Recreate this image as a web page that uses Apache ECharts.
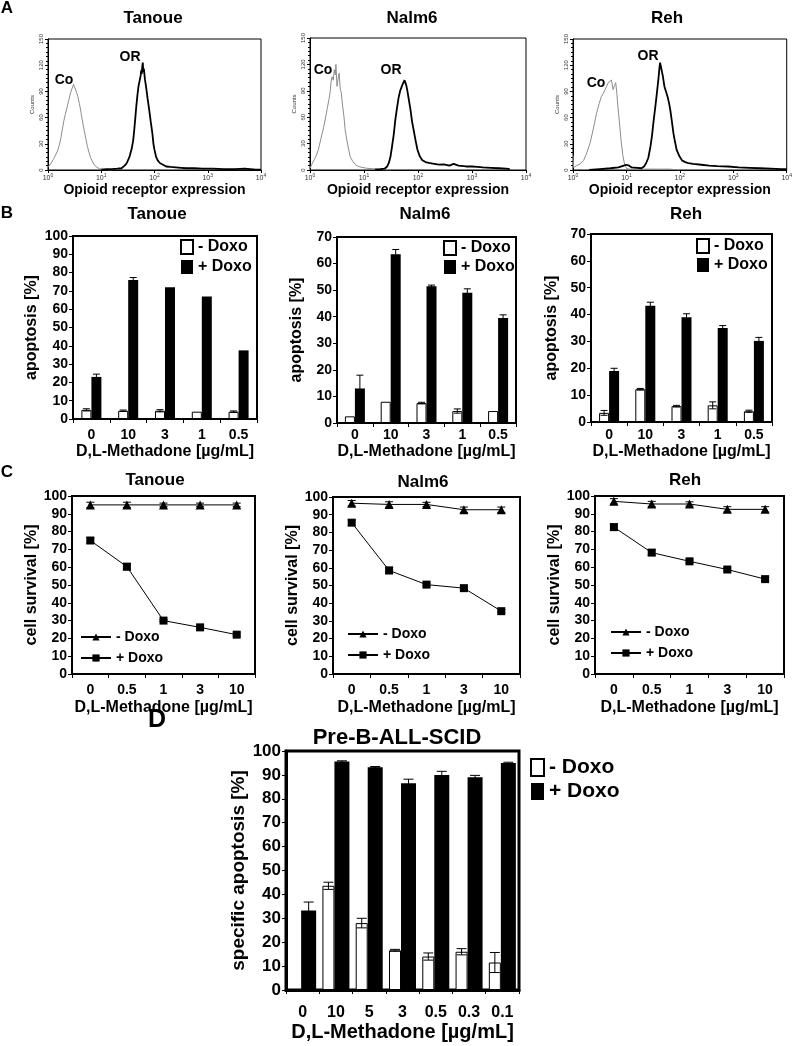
<!DOCTYPE html>
<html><head><meta charset="utf-8">
<script src="https://cdn.jsdelivr.net/npm/echarts/dist/echarts.min.js"></script>
<style>html,body{margin:0;padding:0;background:#fff}#c{width:795px;height:1046px}</style>
</head><body><div id="c"></div>
<script>
// ---------------- DATA ----------------
// Panel A: flow cytometry histograms, [log10 intensity, counts]
const aTanoueCo = [[0,3],[0.03,5],[0.06,8],[0.1,12],[0.14,17],[0.18,22],[0.21,28],[0.24,36],[0.27,47],[0.3,57],[0.33,65],[0.36,72],[0.39,80],[0.42,88],[0.45,93],[0.48,98],[0.5,96],[0.53,90],[0.56,84],[0.59,76],[0.62,66],[0.65,55],[0.68,45],[0.71,36],[0.74,27],[0.77,20],[0.8,14],[0.84,9],[0.88,5],[0.92,3],[0.97,1.5],[1.05,0.5],[1.2,0]];
const aTanoueOR = [[1.0,0.5],[1.1,1],[1.2,1],[1.3,1.5],[1.38,2],[1.44,5],[1.48,8],[1.53,15],[1.57,24],[1.6,34],[1.62,46],[1.64,60],[1.66,74],[1.68,86],[1.7,96],[1.72,102],[1.74,108],[1.75,114],[1.76,110],[1.77,118],[1.78,123],[1.79,112],[1.8,116],[1.82,104],[1.84,96],[1.87,82],[1.9,69],[1.93,55],[1.96,42],[1.98,30],[2.0,23],[2.03,15],[2.06,11],[2.1,8],[2.16,6],[2.22,4],[2.3,3.5],[2.4,3],[2.5,2.5],[2.6,2],[2.75,2],[2.9,1.5],[3.1,1.5],[3.3,1],[3.5,1],[3.7,1.5],[3.9,0.5],[4,0.5]];
const aNalm6Co = [[0,2],[0.03,6],[0.08,12],[0.12,17],[0.155,23],[0.2,35],[0.25,48],[0.28,57],[0.32,70],[0.35,80],[0.37,87],[0.39,100],[0.41,106],[0.43,102],[0.45,114],[0.47,108],[0.48,120],[0.5,95],[0.52,104],[0.54,110],[0.56,92],[0.58,88],[0.6,75],[0.63,60],[0.65,46],[0.68,35],[0.71,25],[0.745,15],[0.79,10],[0.84,6],[0.9,4],[0.96,3],[1.05,2],[1.15,1.5],[1.25,1],[1.35,0.5],[1.5,0]];
const aNalm6OR = [[1.2,0.5],[1.3,1],[1.38,1.5],[1.43,4],[1.46,8],[1.49,15],[1.52,27],[1.55,40],[1.58,57],[1.61,70],[1.64,82],[1.67,90],[1.7,95],[1.72,98],[1.74,96],[1.75,102],[1.76,100],[1.77,101],[1.78,97],[1.8,91],[1.83,80],[1.86,69],[1.89,55],[1.93,42],[1.96,32],[1.99,23],[2.03,16],[2.08,11],[2.14,9],[2.2,8],[2.3,7],[2.39,6],[2.48,6.5],[2.58,5],[2.66,7],[2.75,5],[2.89,4],[3.0,4],[3.1,3.5],[3.2,3],[3.35,2.5],[3.5,2],[3.63,1.5],[3.7,1]];
const aRehCo = [[0,17],[0.01,3],[0.07,5],[0.13,7],[0.2,11],[0.26,20],[0.32,31],[0.38,47],[0.44,65],[0.49,76],[0.53,84],[0.57,88],[0.6,92],[0.63,96],[0.66,100],[0.69,98],[0.72,103],[0.75,92],[0.78,97],[0.8,100],[0.82,88],[0.84,73],[0.87,54],[0.9,34],[0.93,18],[0.96,8],[1.0,2],[1.05,1],[1.2,1],[1.4,1],[1.6,1],[1.8,1],[1.9,0.5],[2.0,0]];
const aRehOR = [[0.3,0],[0.5,1],[0.7,2],[0.85,3],[0.95,5],[1.0,6],[1.05,5],[1.1,3],[1.2,2.5],[1.28,2],[1.33,4],[1.37,8],[1.41,14],[1.45,27],[1.48,40],[1.51,57],[1.54,72],[1.57,88],[1.6,105],[1.62,118],[1.63,123],[1.65,117],[1.66,119],[1.68,108],[1.71,96],[1.74,90],[1.77,84],[1.8,76],[1.82,69],[1.85,56],[1.88,42],[1.91,32],[1.94,23],[1.99,16],[2.04,11],[2.1,9],[2.16,8],[2.25,7],[2.4,6],[2.55,5],[2.7,4.5],[2.9,4],[3.1,3],[3.3,2.5],[3.5,2],[3.7,1.5],[3.9,1],[4.0,1]];

// Panel B: apoptosis bars
const bCats = ['0','10','3','1','0.5'];
const bTanoueMinus = [5, 4.5, 4.5, 4, 4];
const bTanoueMinusErr = [0.6, 0.4, 0.6, 0, 0.4];
const bTanouePlus = [23, 76, 72, 67, 37.5];
const bTanouePlusErr = [1.5, 1.3, 0, 0, 0];
const bNalm6Minus = [2.5, 8, 7.5, 4.5, 4.5];
const bNalm6MinusErr = [0, 0, 0.3, 0.8, 0];
const bNalm6Plus = [13, 63.5, 51.5, 49, 39.5];
const bNalm6PlusErr = [5, 1.8, 0.4, 1.5, 1.2];
const bRehMinus = [3.4, 12.2, 5.9, 6.2, 4];
const bRehMinusErr = [0.9, 0.3, 0.3, 1.3, 0.4];
const bRehPlus = [19, 43.3, 39, 35, 30.2];
const bRehPlusErr = [1, 1.3, 1.3, 0.9, 1.3];

// Panel C: cell survival lines
const cCats = ['0','0.5','1','3','10'];
const cTanoueMinus = [95, 95, 95, 95, 95];
const cTanoueMinusErr = [1.5, 1.5, 1, 1, 1];
const cTanouePlus = [75, 60.3, 30, 26.2, 22.1];
const cTanouePlusErr = [1.5, 1.8, 0.5, 0.6, 0.8];
const cNalm6Minus = [96.5, 95.8, 95.8, 92.8, 92.8];
const cNalm6MinusErr = [1.5, 1.5, 1.2, 1.5, 1.5];
const cNalm6Plus = [85.5, 58.5, 50.5, 48.5, 35.5];
const cNalm6PlusErr = [1.5, 1.8, 0.8, 0.8, 0.8];
const cRehMinus = [97, 95.5, 95.5, 92.5, 92.5];
const cRehMinusErr = [1.5, 1.5, 1.2, 1.5, 1.5];
const cRehPlus = [82.5, 68.2, 63.3, 58.7, 53.3];
const cRehPlusErr = [1.8, 1.5, 0.8, 0.8, 0.8];

// Panel D: Pre-B-ALL-SCID specific apoptosis
const dCats = ['0','10','5','3','0.5','0.3','0.1'];
const dMinus = [null, 43.6, 28, 16.6, 14, 16, 11.5];
const dMinusErr = [0, 1.5, 2, 0.4, 1.5, 1.3, 4.2];
const dPlus = [33.3, 95.6, 93.2, 86.5, 90, 89, 95];
const dPlusErr = [3.5, 0.3, 0.3, 1.7, 1.5, 0.8, 0.3];

// ---------------- BUILD ----------------
const FONT = '"Liberation Sans", Arial, Helvetica, sans-serif';
const T = (size) => ({fontFamily: FONT, fontWeight: 'bold', fontSize: size, color: '#000'});
const grids = [], xAxes = [], yAxes = [], series = [], legends = [], graphics = [];
const XNAME = 'D,L-Methadone [µg/mL]';

function addGrid(l, t, w, h, bw) {
  grids.push({left: l, top: t, width: w, height: h, show: true, borderColor: '#000', borderWidth: bw, backgroundColor: 'transparent'});
  return grids.length - 1;
}

function errSeries(xi, yi, vals, errs, offset, cap, z) {
  const data = [];
  vals.forEach((v, i) => { if (v != null && errs[i] > 0) data.push([i, v, errs[i]]); });
  return {
    type: 'custom', xAxisIndex: xi, yAxisIndex: yi, z: z || 5, silent: true, animation: false,
    encode: {x: 0, y: 1}, data,
    renderItem: (p, api) => {
      const i = api.value(0), v = api.value(1), e = api.value(2);
      const hi = api.coord([i, v + e]), lo = api.coord([i, v - e]);
      const x = hi[0] + offset;
      const st = {stroke: '#000', lineWidth: 1};
      return {type: 'group', children: [
        {type: 'line', shape: {x1: x, y1: hi[1], x2: x, y2: lo[1]}, style: st},
        {type: 'line', shape: {x1: x - cap, y1: hi[1], x2: x + cap, y2: hi[1]}, style: st},
        {type: 'line', shape: {x1: x - cap, y1: lo[1], x2: x + cap, y2: lo[1]}, style: st}
      ]};
    }
  };
}

function histPanel(g, co, or) {
  const gi = addGrid(g[0], g[1], g[2], g[3], 1);
  xAxes.push({gridIndex: gi, type: 'value', min: 0, max: 4, interval: 1,
    name: 'Opioid receptor expression', nameLocation: 'middle', nameGap: 13, nameTextStyle: T(14),
    axisLine: {show: true, lineStyle: {color: '#000', width: 1}},
    axisTick: {show: true, length: 3, lineStyle: {color: '#000'}},
    splitLine: {show: false},
    axisLabel: {margin: 3, fontSize: 7, color: '#333', fontFamily: FONT,
      formatter: v => '10{s|' + v + '}', rich: {s: {fontSize: 5, color: '#333', padding: [0, 0, 5, 0]}}}});
  yAxes.push({gridIndex: gi, type: 'value', min: 0, max: 150, interval: 30,
    name: 'Counts', nameLocation: 'middle', nameGap: 13, nameTextStyle: {fontSize: 6, color: '#333', fontFamily: FONT},
    axisLine: {show: true, lineStyle: {color: '#000', width: 1}},
    axisTick: {show: true, length: 3, lineStyle: {color: '#000'}},
    minorTick: {show: true, splitNumber: 6, length: 2, lineStyle: {color: '#000'}},
    splitLine: {show: false},
    axisLabel: {rotate: 90, fontSize: 6, color: '#333', margin: 4, fontFamily: FONT}});
  const xi = xAxes.length - 1, yi = yAxes.length - 1;
  series.push({type: 'line', xAxisIndex: xi, yAxisIndex: yi, data: co, showSymbol: false, symbol: 'none',
    lineStyle: {color: '#8c8c8c', width: 1}, silent: true, animation: false, z: 2});
  series.push({type: 'line', xAxisIndex: xi, yAxisIndex: yi, data: or, showSymbol: false, symbol: 'none',
    lineStyle: {color: '#000', width: 1.8}, silent: true, animation: false, z: 3});
}

function catX(gi, cats, lab, margin, nameSize, nameGap, lw) {
  return {gridIndex: gi, type: 'category', data: cats, boundaryGap: true,
    name: XNAME, nameLocation: 'middle', nameGap: nameGap, nameTextStyle: T(nameSize),
    axisLine: {show: true, lineStyle: {color: '#000', width: lw}},
    axisTick: {show: true, alignWithLabel: false, length: 4, lineStyle: {color: '#000', width: 1}},
    axisLabel: Object.assign(T(lab), {margin: margin, interval: 0}), splitLine: {show: false}};
}
function valY(gi, max, lab, name, nameSize, nameGap, lw) {
  return {gridIndex: gi, type: 'value', min: 0, max: max, interval: 10,
    name: name, nameLocation: 'middle', nameGap: nameGap, nameTextStyle: T(nameSize),
    axisLine: {show: true, lineStyle: {color: '#000', width: lw}},
    axisTick: {show: true, length: 4, lineStyle: {color: '#000', width: 1}},
    splitLine: {show: false}, axisLabel: Object.assign(T(lab), {margin: 5})};
}

function barPanel(gi, xa, ya, minus, minusErr, plus, plusErr, wm, wp, cap) {
  xAxes.push(xa); yAxes.push(ya);
  const xi = xAxes.length - 1, yi = yAxes.length - 1;
  series.push({type: 'bar', name: '- Doxo', xAxisIndex: xi, yAxisIndex: yi, data: minus, barWidth: wm, barGap: '0%',
    itemStyle: {color: '#fff', borderColor: '#000', borderWidth: 1}, silent: true, animation: false, z: 2});
  series.push({type: 'bar', name: '+ Doxo', xAxisIndex: xi, yAxisIndex: yi, data: plus, barWidth: wp, barGap: '0%',
    itemStyle: {color: '#000', borderColor: '#000', borderWidth: 0}, silent: true, animation: false, z: 2});
  const tot = wm + wp;
  series.push(errSeries(xi, yi, minus, minusErr, -tot / 2 + wm / 2, cap));
  series.push(errSeries(xi, yi, plus, plusErr, -tot / 2 + wm + wp / 2, cap));
}

function linePanel(gi, xa, ya, minus, minusErr, plus, plusErr) {
  xAxes.push(xa); yAxes.push(ya);
  const xi = xAxes.length - 1, yi = yAxes.length - 1;
  series.push({type: 'line', name: '- Doxo ', xAxisIndex: xi, yAxisIndex: yi, data: minus, symbol: 'triangle', symbolSize: 9,
    lineStyle: {color: '#000', width: 1}, itemStyle: {color: '#000'}, silent: true, animation: false, z: 3});
  series.push({type: 'line', name: '+ Doxo ', xAxisIndex: xi, yAxisIndex: yi, data: plus, symbol: 'rect', symbolSize: 8,
    lineStyle: {color: '#000', width: 1}, itemStyle: {color: '#000'}, silent: true, animation: false, z: 3});
  series.push(errSeries(xi, yi, minus, minusErr, 0, 4, 4));
  series.push(errSeries(xi, yi, plus, plusErr, 0, 4, 4));
}

// ---- Panel A
histPanel([48, 39, 213, 131], aTanoueCo, aTanoueOR);
histPanel([310, 38, 216, 132], aNalm6Co, aNalm6OR);
histPanel([573, 39, 217, 131], aRehCo, aRehOR);

// ---- Panel B
let g;
g = addGrid(73, 236, 184, 183, 2);
barPanel(g, catX(g, bCats, 14, 9, 16, 25, 2), valY(g, 100, 14, 'apoptosis [%]', 16, 33, 2),
  bTanoueMinus, bTanoueMinusErr, bTanouePlus, bTanouePlusErr, 10, 10, 3.5);
g = addGrid(337, 237, 179, 186, 2);
barPanel(g, catX(g, bCats, 14, 5, 16, 21, 2), valY(g, 70, 14, 'apoptosis [%]', 16, 32, 2),
  bNalm6Minus, bNalm6MinusErr, bNalm6Plus, bNalm6PlusErr, 10, 10, 3.5);
g = addGrid(591, 234, 181, 188, 2);
barPanel(g, catX(g, bCats, 14, 6, 16, 22, 2), valY(g, 70, 14, 'apoptosis [%]', 16, 31, 2),
  bRehMinus, bRehMinusErr, bRehPlus, bRehPlusErr, 10, 10, 3.5);

// ---- Panel C
g = addGrid(72, 496, 183, 178, 2);
linePanel(g, catX(g, cCats, 14, 9, 16, 26, 2), valY(g, 100, 14, 'cell survival [%]', 16, 30, 2),
  cTanoueMinus, cTanoueMinusErr, cTanouePlus, cTanouePlusErr);
g = addGrid(333, 497, 187, 177, 2);
linePanel(g, catX(g, cCats, 14, 9, 16, 26, 2), valY(g, 100, 14, 'cell survival [%]', 16, 26, 2),
  cNalm6Minus, cNalm6MinusErr, cNalm6Plus, cNalm6PlusErr);
g = addGrid(595, 496, 189, 178, 2);
linePanel(g, catX(g, cCats, 14, 9, 16, 26, 2), valY(g, 100, 14, 'cell survival [%]', 16, 25, 2),
  cRehMinus, cRehMinusErr, cRehPlus, cRehPlusErr);

// ---- Panel D
g = addGrid(286, 751, 233, 239, 3);
barPanel(g, catX(g, dCats, 16, 15, 20, 32, 3), valY(g, 100, 17, 'specific apoptosis [%]', 19, 38, 3),
  dMinus, dMinusErr, dPlus, dPlusErr, 12, 15, 5);

// ---- Legends
function barLegend(l, t, size, iw, ih, lh, gap) {
  legends.push({left: l, top: t, orient: 'vertical', padding: 0, itemWidth: iw, itemHeight: ih, itemGap: gap,
    selectedMode: false, icon: 'rect', data: ['- Doxo', '+ Doxo'],
    textStyle: Object.assign(T(size), {lineHeight: lh})});
}
barLegend(180, 239, 16, 12, 14, 16, 4);
barLegend(443, 240, 16, 12, 14, 16, 3);
barLegend(696, 238, 16, 12, 14, 16, 3);
barLegend(530, 757, 21, 13, 17, 18, 3);
function lineLegend(l, t) {
  legends.push({left: l, top: t, orient: 'vertical', padding: 0, itemWidth: 30, itemHeight: 9, itemGap: 5,
    selectedMode: false, data: ['- Doxo ', '+ Doxo '],
    textStyle: Object.assign(T(14), {lineHeight: 16})});
}
lineLegend(80, 629);
lineLegend(347, 626);
lineLegend(610, 624);

// ---- Free text
function txt(x, y, s, size) {
  graphics.push({type: 'text', x: x, y: y, silent: true,
    style: {text: s, align: 'center', verticalAlign: 'middle', fontFamily: FONT, fontWeight: 'bold', fontSize: size, fill: '#000'}});
}
txt(7, 8, 'A', 17); txt(7, 213, 'B', 17); txt(7, 472, 'C', 17); txt(157, 720, 'D', 25);
txt(153, 18, 'Tanoue', 17); txt(412, 18, 'Nalm6', 17); txt(667, 18, 'Reh', 17);
txt(157, 214, 'Tanoue', 17); txt(425, 214, 'Nalm6', 17); txt(686, 214, 'Reh', 17);
txt(155, 480, 'Tanoue', 17); txt(423, 482, 'Nalm6', 17); txt(685, 480, 'Reh', 17);
txt(397, 738, 'Pre-B-ALL-SCID', 22);
txt(64, 80, 'Co', 14); txt(130, 57, 'OR', 14);
txt(323, 70, 'Co', 14); txt(391, 70, 'OR', 14);
txt(596, 83, 'Co', 14); txt(648, 56, 'OR', 14);

const chart = echarts.init(document.getElementById('c'), null, {renderer: 'canvas'});
chart.setOption({
  backgroundColor: '#fff', animation: false,
  grid: grids, xAxis: xAxes, yAxis: yAxes, series: series, legend: legends, graphic: graphics
});
</script></body></html>
